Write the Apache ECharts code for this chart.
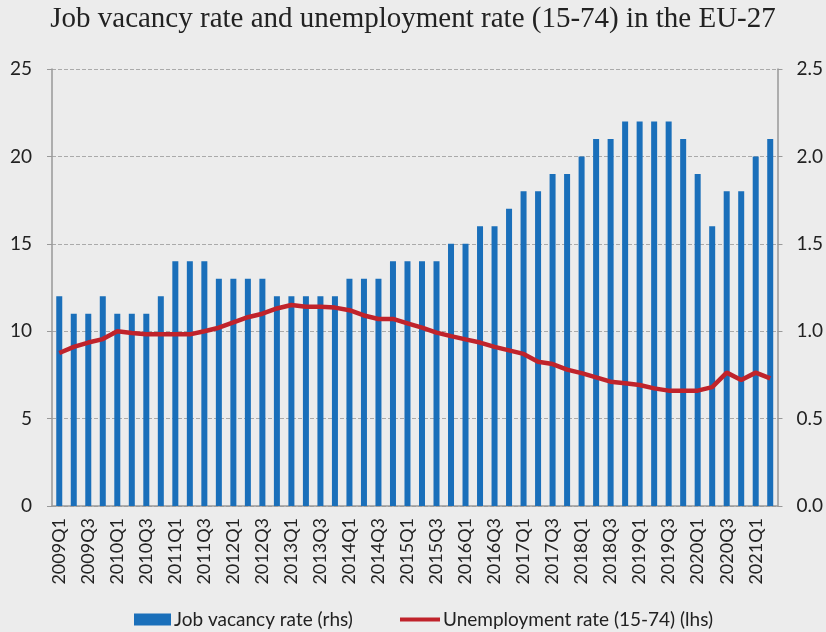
<!DOCTYPE html>
<html><head><meta charset="utf-8">
<script src="https://cdn.jsdelivr.net/npm/echarts@6/dist/echarts.min.js"></script>
<style>html,body{margin:0;padding:0;background:#ececec;}#c{width:826px;height:632px;}</style>
</head><body><div id="c"></div>
<script>
const categories = (function(){const a=[];for(let y=2009;y<=2021;y++){for(let q=1;q<=4;q++){if(y===2021&&q>2)break;a.push(y+'Q'+q);}}return a;})();
const jobVacancy = [1.2,1.1,1.1,1.2,1.1,1.1,1.1,1.2,1.4,1.4,1.4,1.3,1.3,1.3,1.3,1.2,1.2,1.2,1.2,1.2,1.3,1.3,1.3,1.4,1.4,1.4,1.4,1.5,1.5,1.6,1.6,1.7,1.8,1.8,1.9,1.9,2.0,2.1,2.1,2.2,2.2,2.2,2.2,2.1,1.9,1.6,1.8,1.8,2.0,2.1];
const unemployment = [8.75,9.1,9.35,9.55,10.0,9.9,9.82,9.82,9.82,9.82,10.0,10.2,10.5,10.8,11.0,11.3,11.5,11.4,11.4,11.35,11.2,10.9,10.7,10.7,10.45,10.2,9.92,9.72,9.53,9.35,9.1,8.9,8.7,8.25,8.12,7.8,7.6,7.36,7.11,7.02,6.92,6.73,6.6,6.6,6.6,6.8,7.63,7.21,7.63,7.3];
const leftTicks = [0,5,10,15,20,25];
const rightTicks = [0,0.5,1.0,1.5,2.0,2.5];

const chart = echarts.init(document.getElementById('c'));
const lblFont = 'Lato';
chart.setOption({
  backgroundColor:'#ececec',
  animation:false,
  title:{text:'Job vacancy rate and unemployment rate (15-74) in the EU-27',left:'center',top:0,
    textStyle:{fontFamily:'Liberation Serif',fontWeight:'normal',fontSize:29,color:'#222'}},
  legend:[
    {left:129,top:605,itemWidth:37,itemHeight:12,itemGap:5,
      textStyle:{fontFamily:lblFont,fontSize:19,color:'#222',padding:[0,0,0,-2]},
      data:[{name:'Job vacancy rate (rhs)',icon:'rect'}]},
    {left:395,top:605,itemWidth:40,itemHeight:4,
      textStyle:{fontFamily:lblFont,fontSize:19,color:'#222',padding:[0,0,0,-2]},
      data:[{name:'Unemployment rate (15-74) (lhs)',icon:'rect'}]}
  ],
  grid:{left:52,right:48,top:69,bottom:126},
  xAxis:{type:'category',data:categories,boundaryGap:true,
    axisLine:{lineStyle:{color:'#999',width:1.5}},
    axisTick:{interval:0,length:6,lineStyle:{color:'#999'}},
    axisLabel:{interval:1,rotate:90,fontFamily:lblFont,fontSize:18,color:'#222',margin:12}},
  yAxis:[
    {type:'value',min:0,max:25,interval:5,
      axisLine:{show:true,lineStyle:{color:'#999',width:1.5}},
      axisTick:{show:true,length:5,lineStyle:{color:'#999'}},
      axisLabel:{fontFamily:lblFont,fontSize:19,color:'#222',margin:20},
      splitLine:{lineStyle:{type:'dashed',color:'#aaa'}}},
    {type:'value',min:0,max:2.5,interval:0.5,position:'right',
      axisLine:{show:true,lineStyle:{color:'#999',width:1.5}},
      axisTick:{show:true,length:5,lineStyle:{color:'#999'}},
      axisLabel:{fontFamily:lblFont,fontSize:19,color:'#222',margin:19,formatter:v=>v.toFixed(1)},
      splitLine:{show:false}}
  ],
  series:[
    {name:'Job vacancy rate (rhs)',type:'bar',yAxisIndex:1,data:jobVacancy,barWidth:6,
      itemStyle:{color:'#1a6fba'}},
    {name:'Unemployment rate (15-74) (lhs)',type:'line',yAxisIndex:0,data:unemployment,
      showSymbol:false,symbol:'none',lineStyle:{color:'#c0232b',width:4.5},itemStyle:{color:'#c0232b'}}
  ]
});
</script></body></html>
